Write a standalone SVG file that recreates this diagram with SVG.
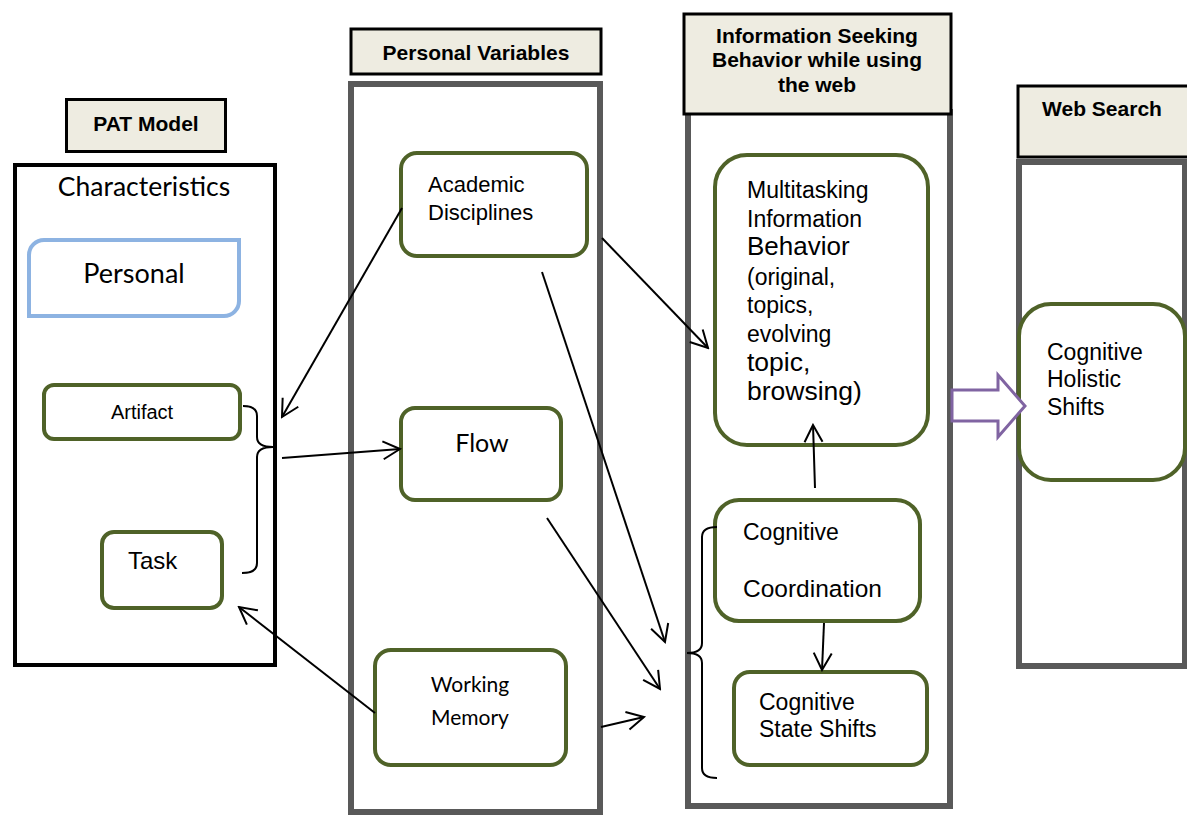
<svg xmlns="http://www.w3.org/2000/svg" width="1187" height="816" viewBox="0 0 1187 816">
<defs>
<style>
.hdr{fill:#eeece1;stroke:#000;stroke-width:3}
.col{fill:#fff;stroke:#595959;stroke-width:6}
.node{fill:#fff;stroke:#4f6228;stroke-width:4}
.ht{font-family:"Liberation Sans",Arial,sans-serif;font-weight:bold;font-size:21px;fill:#000;text-anchor:middle}
.t{font-family:"Liberation Sans",Arial,sans-serif;fill:#000}
.c{font-family:Lato,"Liberation Sans",sans-serif;fill:#000}
.ln{fill:none;stroke:#000;stroke-width:2}
</style>
<marker id="arr" markerUnits="userSpaceOnUse" markerWidth="24" markerHeight="24" viewBox="0 0 24 24" refX="22" refY="12" orient="auto">
<path d="M5,3 L22,12 L5,21" fill="none" stroke="#000" stroke-width="2"/>
</marker>
</defs>
<rect width="1187" height="816" fill="#fff"/>

<g id="pat-model">
<rect class="hdr" x="66.5" y="99.5" width="159" height="52"/>
<text class="ht" x="146" y="131">PAT Model</text>
</g>
<g id="characteristics">
<rect x="15" y="165" width="260" height="500" fill="#fff" stroke="#000" stroke-width="4"/>
<text class="c" x="144" y="196" font-size="26.5" text-anchor="middle">Characteristics</text>
</g>
<g id="personal">
<path d="M44,240 H239 V301 A15,15 0 0 1 224,316 H29 V255 A15,15 0 0 1 44,240 Z" fill="#fff" stroke="#8db3e2" stroke-width="4"/>
<text class="c" x="134" y="283" font-size="27" text-anchor="middle">Personal</text>
</g>
<g id="artifact">
<rect class="node" x="44" y="385" width="196" height="54" rx="10"/>
<text class="t" x="142" y="419" font-size="20" text-anchor="middle">Artifact</text>
</g>
<g id="task">
<rect class="node" x="102" y="532" width="120" height="76" rx="12"/>
<text class="t" x="128" y="569" font-size="24">Task</text>
</g>

<g id="personal-variables">
<rect class="hdr" x="351" y="29" width="250" height="45"/>
<text class="ht" x="476" y="60">Personal Variables</text>
<rect class="col" x="351" y="84" width="249" height="728"/>
</g>
<g id="academic-disciplines">
<rect class="node" x="401" y="153" width="186" height="103" rx="16"/>
<text class="t" x="428" y="192" font-size="22">Academic</text>
<text class="t" x="428" y="220" font-size="22">Disciplines</text>
</g>
<g id="flow">
<rect class="node" x="401" y="408" width="160" height="92" rx="14"/>
<text class="c" x="482" y="452" font-size="25" text-anchor="middle">Flow</text>
</g>
<g id="working-memory">
<rect class="node" x="375" y="650" width="191" height="115" rx="16"/>
<text class="c" x="470" y="692" font-size="21" text-anchor="middle">Working</text>
<text class="c" x="470" y="725" font-size="21" text-anchor="middle">Memory</text>
</g>

<g id="info-seeking">
<rect class="col" x="688" y="112" width="262" height="694"/>
<rect class="hdr" x="684" y="14" width="267" height="100"/>
<text class="ht" x="817" y="43">Information Seeking</text>
<text class="ht" x="817" y="67">Behavior while using</text>
<text class="ht" x="817" y="92">the web</text>
</g>
<g id="multitasking">
<rect class="node" x="715" y="155" width="213" height="290" rx="32"/>
<text class="t" x="747" y="198" font-size="23">Multitasking</text>
<text class="t" x="747" y="227" font-size="23">Information</text>
<text class="t" x="747" y="255" font-size="26">Behavior</text>
<text class="t" x="747" y="285" font-size="23">(original,</text>
<text class="t" x="747" y="313" font-size="23">topics,</text>
<text class="t" x="747" y="342" font-size="23">evolving</text>
<text class="t" x="747" y="371" font-size="26.5">topic,</text>
<text class="t" x="747" y="400" font-size="26.5">browsing)</text>
</g>
<g id="cognitive-coordination">
<rect class="node" x="715" y="500" width="205" height="121" rx="24"/>
<text class="t" x="743" y="540" font-size="23">Cognitive</text>
<text class="t" x="743" y="597" font-size="24.5">Coordination</text>
</g>
<g id="cognitive-state-shifts">
<rect class="node" x="734" y="672" width="193" height="93" rx="16"/>
<text class="t" x="759" y="710" font-size="23">Cognitive</text>
<text class="t" x="759" y="737" font-size="23">State Shifts</text>
</g>

<g id="web-search">
<rect class="hdr" x="1018" y="86" width="175" height="71"/>
<text class="ht" x="1102" y="116">Web Search</text>
<rect class="col" x="1019" y="162" width="166" height="504"/>
</g>
<g id="cognitive-holistic-shifts">
<rect class="node" x="1019" y="304" width="166" height="176" rx="32"/>
<text class="t" x="1047" y="360" font-size="23">Cognitive</text>
<text class="t" x="1047" y="387" font-size="23">Holistic</text>
<text class="t" x="1047" y="415" font-size="23">Shifts</text>
</g>

<g id="connectors">
<path class="ln" d="M243,406 Q257,406 257,416 V437 Q257,447 273,447 Q257,447 257,457 V563 Q257,573 242,573"/>
<path class="ln" d="M717,527 Q702,527 702,537 V643 Q702,653 687,653 Q702,653 702,663 V768 Q702,778 717,778"/>
<line class="ln" x1="402" y1="208" x2="282" y2="417" marker-end="url(#arr)"/>
<line class="ln" x1="282" y1="458" x2="400" y2="449" marker-end="url(#arr)"/>
<line class="ln" x1="375" y1="713" x2="239" y2="607" marker-end="url(#arr)"/>
<line class="ln" x1="602" y1="238" x2="708" y2="348" marker-end="url(#arr)"/>
<line class="ln" x1="542" y1="272" x2="665" y2="642" marker-end="url(#arr)"/>
<line class="ln" x1="547" y1="518" x2="660" y2="689" marker-end="url(#arr)"/>
<line class="ln" x1="601" y1="727" x2="644" y2="717" marker-end="url(#arr)"/>
<line class="ln" x1="815" y1="488" x2="813" y2="425" marker-end="url(#arr)"/>
<line class="ln" x1="824" y1="623" x2="822" y2="670" marker-end="url(#arr)"/>
<path d="M952,390 H998 V375 L1025,406 L998,437 V421 H952 Z" fill="#fff" stroke="#8064a2" stroke-width="3"/>
</g>
</svg>
